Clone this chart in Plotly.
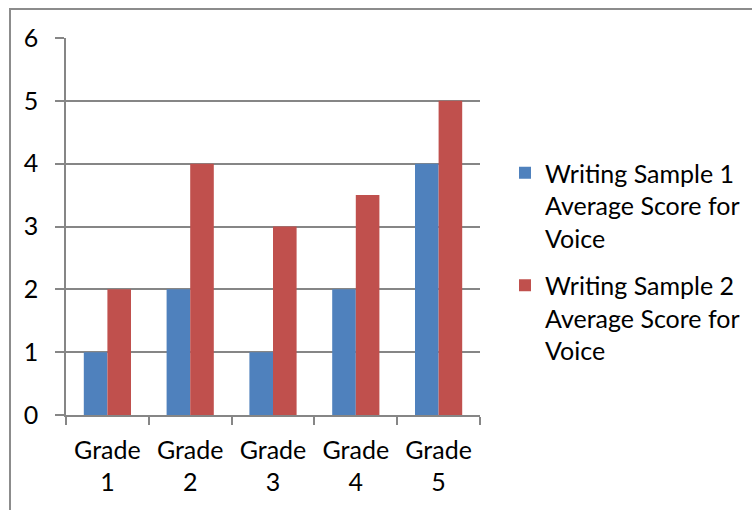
import plotly.graph_objects as go

# Average voice scores per grade for two writing samples
grades = ["Grade<br>1", "Grade<br>2", "Grade<br>3", "Grade<br>4", "Grade<br>5"]
sample1 = [1, 2, 1, 2, 4]
sample2 = [2, 4, 3, 3.5, 5]
series_names = [
    "Writing Sample 1<br>Average Score for<br>Voice",
    "Writing Sample 2<br>Average Score for<br>Voice",
]

FONT = "Lato"
FS = 25
GRID = "#868686"

fig = go.Figure()
fig.add_trace(go.Bar(x=grades, y=sample1, name=series_names[0],
                     marker=dict(color="#4F81BD", line=dict(width=0)),
                     legendgroup="s1"))
fig.add_trace(go.Bar(x=grades, y=sample2, name=series_names[1],
                     marker=dict(color="#C0504D", line=dict(width=0)),
                     legendgroup="s2"))

W, H = 752, 510
L, R, T, B = 66, 480, 38, 415

fig.update_layout(
    width=W, height=H,
    margin=dict(l=L, r=W - R, t=T, b=H - B, pad=0, autoexpand=False),
    paper_bgcolor="white", plot_bgcolor="white",
    font=dict(family=FONT, size=FS, color="black"),
    barmode="group", bargap=0.43, bargroupgap=0,
    showlegend=True,
    legend=dict(x=(505 - L) / (R - L), xanchor="left",
                y=(H - 150 - (H - B)) / (B - T), yanchor="top",
                valign="top", traceorder="grouped", tracegroupgap=12,
                font=dict(family=FONT, size=FS, color="black"),
                bgcolor="rgba(0,0,0,0)", borderwidth=0),
    xaxis=dict(showline=True, linecolor=GRID, linewidth=1.5,
               ticks="outside", ticklen=8, tickcolor=GRID, tickwidth=1.5,
               tickson="boundaries", showgrid=False,
               ticklabelstandoff=12,
               tickfont=dict(family=FONT, size=FS, color="black")),
    yaxis=dict(range=[0, 6], dtick=1, showline=True, linecolor=GRID, linewidth=1.5,
               ticks="outside", ticklen=9, tickcolor=GRID, tickwidth=1.5,
               showgrid=True, gridcolor=GRID, gridwidth=1.5, zeroline=False,
               ticklabelstandoff=12,
               tickfont=dict(family=FONT, size=FS, color="black")),
)

# Chart-area border (runs past the right and bottom edges of the page)
fig.add_shape(type="rect", xref="paper", yref="paper",
              x0=(10 - L) / (R - L), x1=(770 - L) / (R - L),
              y0=(B - 530) / (B - T), y1=(B - 9) / (B - T),
              line=dict(color="#8C8C8C", width=2), fillcolor="rgba(0,0,0,0)",
              layer="below")

fig.write_html("out.html")
